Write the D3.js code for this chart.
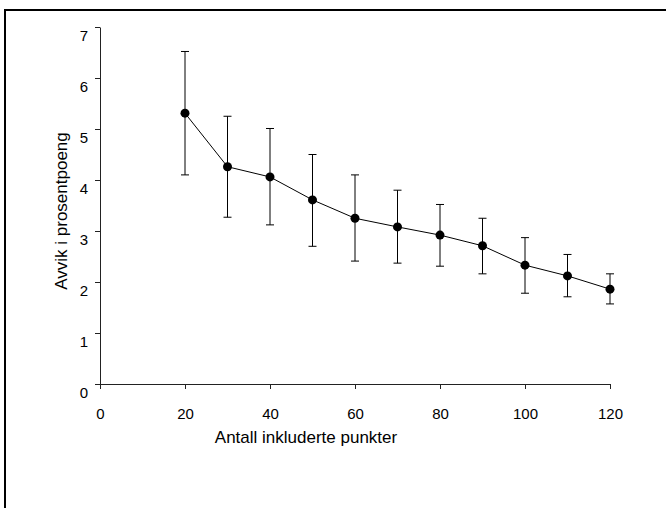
<!DOCTYPE html>
<html>
<head>
<meta charset="utf-8">
<script src="https://cdn.jsdelivr.net/npm/d3@7"></script>
<style>
  body { margin: 0; background: #fff; }
  svg { display: block; font-family: Arial, "Liberation Sans", sans-serif; }
</style>
</head>
<body>
<div id="graph"></div>
<script>
// antall punkter og avvik (middel, øvre og nedre feilgrense)
var punkter = [20, 30, 40, 50, 60, 70, 80, 90, 100, 110, 120];
var avvik   = [5.31, 4.26, 4.06, 3.61, 3.25, 3.08, 2.92, 2.71, 2.33, 2.12, 1.86];
var ovre    = [6.52, 5.25, 5.01, 4.50, 4.10, 3.80, 3.52, 3.25, 2.87, 2.54, 2.16];
var nedre   = [4.10, 3.27, 3.12, 2.70, 2.41, 2.37, 2.31, 2.16, 1.78, 1.71, 1.57];
var xTicks = [0, 20, 40, 60, 80, 100, 120];
var yTicks = [0, 1, 2, 3, 4, 5, 6, 7];

var w = 666, h = 508;

var data = punkter.map(function(p, i) {
  return {n: p, v: avvik[i], hi: ovre[i], lo: nedre[i]};
});

var svg = d3.select("#graph").append("svg")
  .attr("width", w)
  .attr("height", h);

// ramme rundt figuren
svg.append("rect")
  .attr("x", 5).attr("y", 10)
  .attr("width", 700).attr("height", 600)
  .attr("fill", "none")
  .attr("stroke", "#000")
  .attr("stroke-width", 2);

var x = d3.scaleLinear().domain([0, 120]).range([100, 610]);
var y = d3.scaleLinear().domain([0, 7]).range([384, 27]);

var xAxis = svg.append("g")
  .attr("transform", "translate(0,384)")
  .call(d3.axisBottom(x).tickValues(xTicks).tickSize(5).tickSizeOuter(0).tickPadding(19));

var yAxis = svg.append("g")
  .attr("transform", "translate(100,0)")
  .call(d3.axisLeft(y).tickValues(yTicks).tickFormat(d3.format("d"))
    .tickSize(5).tickSizeOuter(0).tickPadding(12));

[xAxis, yAxis].forEach(function(a) {
  a.select(".domain").attr("stroke", "#222").attr("stroke-width", 1);
  a.selectAll(".tick line").attr("stroke", "#222");
  a.selectAll("text").attr("font-size", 15).attr("fill", "#000")
    .attr("font-family", "Arial, 'Liberation Sans', sans-serif");
});
// tallene på y-aksen ligger litt under strekene
yAxis.selectAll("text").attr("dy", "0.3em").attr("y", 9).attr("x", -12);

svg.append("text")
  .attr("x", 306).attr("y", 443)
  .attr("text-anchor", "middle")
  .attr("font-size", 17)
  .text("Antall inkluderte punkter");

svg.append("text")
  .attr("transform", "translate(67,211) rotate(-90)")
  .attr("text-anchor", "middle")
  .attr("font-size", 17)
  .text("Avvik i prosentpoeng");

// feilstolper
var bars = svg.append("g").attr("stroke", "#000").attr("stroke-width", 1);
bars.selectAll(".vline")
  .data(data).enter().append("line")
  .attr("x1", function(d) { return x(d.n); })
  .attr("x2", function(d) { return x(d.n); })
  .attr("y1", function(d) { return y(d.hi); })
  .attr("y2", function(d) { return y(d.lo); });
["hi", "lo"].forEach(function(k) {
  bars.selectAll(".cap-" + k)
    .data(data).enter().append("line")
    .attr("x1", function(d) { return x(d.n) - 4; })
    .attr("x2", function(d) { return x(d.n) + 4; })
    .attr("y1", function(d) { return y(d[k]); })
    .attr("y2", function(d) { return y(d[k]); });
});

var line = d3.line()
  .x(function(d) { return x(d.n); })
  .y(function(d) { return y(d.v); });

svg.append("path")
  .datum(data)
  .attr("fill", "none")
  .attr("stroke", "#000")
  .attr("stroke-width", 1)
  .attr("d", line);

svg.selectAll(".dot")
  .data(data).enter().append("circle")
  .attr("cx", function(d) { return x(d.n); })
  .attr("cy", function(d) { return y(d.v); })
  .attr("r", 4.5)
  .attr("fill", "#000");
</script>
</body>
</html>
